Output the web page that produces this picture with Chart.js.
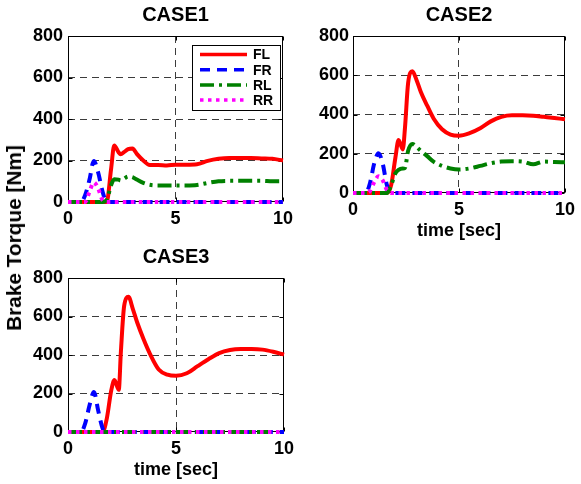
<!DOCTYPE html>
<html>
<head>
<meta charset="utf-8">
<script src="https://cdn.jsdelivr.net/npm/chart.js@4.4.0/dist/chart.umd.min.js"></script>
<style>
  body { margin: 0; background: #fff; }
  #wrap { position: relative; width: 581px; height: 484px; overflow: hidden; font-family: "Liberation Sans", Arial, sans-serif; }
  canvas { position: absolute; }
  #ylabel { position: absolute; left: 14px; top: 238px; transform: translate(-50%, -50%) rotate(-90deg);
            font-weight: bold; font-size: 20.8px; white-space: nowrap; color: #000; }
</style>
</head>
<body>
<div id="wrap">
  <canvas id="case1" width="305" height="230" style="left:0;top:0"></canvas>
  <canvas id="case2" width="291" height="245" style="left:290px;top:0"></canvas>
  <canvas id="case3" width="305" height="242" style="left:0;top:242px"></canvas>
  <div id="ylabel">Brake Torque [Nm]</div>
</div>
<script>
// time samples [sec], shared by every series
const time = [0, 0.6, 0.8, 1.0, 1.2, 1.4, 1.6, 1.8, 2.0, 2.15, 2.35, 2.45, 2.6, 2.8, 3.0, 3.2,
              3.5, 3.8, 4.2, 4.6, 5.0, 5.5, 6.0, 6.5, 7.0, 7.5, 8.0, 8.5, 9.0, 9.5, 10];

const wheels = ['FL', 'FR', 'RL', 'RR'];
const xTicks = [0, 5, 10];
const yTicks = [0, 200, 400, 600, 800];

// CASE1 brake torque [Nm]
const case1FL = [0, 0, 0, 0, 0, 0, 0, 0, 155, 272, 240, 230, 240, 255, 258, 232,
                 200, 178, 178, 176, 180, 180, 182, 198, 208, 212, 212, 212, 210, 208, 200];
const case1FR = [0, 0, 34, 108, 198, 143, 53, 0, 0, 0, 0, 0, 0, 0, 0, 0,
                 0, 0, 0, 0, 0, 0, 0, 0, 0, 0, 0, 0, 0, 0, 0];
const case1RL = [0, 0, 0, 0, 0, 0, 0, 10, 80, 110, 108, 104, 112, 123, 120, 108,
                 92, 83, 80, 80, 80, 80, 82, 92, 100, 102, 102, 102, 102, 100, 100];
const case1RR = [0, 0, 0, 50, 95, 65, 10, 0, 0, 0, 0, 0, 0, 0, 0, 0,
                 0, 0, 0, 0, 0, 0, 0, 0, 0, 0, 0, 0, 0, 0, 0];

// CASE2
const case2FL = [0, 0, 0, 0, 0, 0, 0, 40, 180, 270, 222, 330, 560, 620, 575, 515,
                 445, 380, 325, 298, 292, 305, 330, 365, 388, 396, 396, 394, 388, 382, 376];
const case2FR = [0, 0, 50, 150, 203, 150, 40, 0, 0, 0, 0, 0, 0, 0, 0, 0,
                 0, 0, 0, 0, 0, 0, 0, 0, 0, 0, 0, 0, 0, 0, 0];
const case2RL = [0, 0, 0, 0, 0, 0, 0, 40, 100, 118, 125, 128, 215, 250, 235, 215,
                 188, 160, 138, 125, 120, 125, 138, 152, 160, 162, 160, 146, 160, 158, 157];
const case2RR = [0, 0, 10, 55, 85, 65, 15, 0, 0, 0, 0, 0, 0, 0, 0, 0,
                 0, 0, 0, 0, 0, 0, 0, 0, 0, 0, 0, 0, 0, 0, 0];

// CASE3
const case3FL = [0, 0, 0, 0, 0, 0, 0, 72, 215, 270, 219, 420, 655, 702, 640, 570,
                 482, 405, 325, 298, 292, 305, 342, 378, 410, 426, 431, 431, 428, 417, 402];
const case3FR = [0, 0, 46, 140, 208, 110, 20, 0, 0, 0, 0, 0, 0, 0, 0, 0,
                 0, 0, 0, 0, 0, 0, 0, 0, 0, 0, 0, 0, 0, 0, 0];
const case3RL = [0, 0, 0, 0, 0, 0, 0, 0, 0, 0, 0, 0, 0, 0, 0, 0,
                 0, 0, 0, 0, 0, 0, 0, 0, 0, 0, 0, 0, 0, 0, 0];
const case3RR = [0, 0, 0, 0, 0, 0, 0, 0, 0, 0, 0, 0, 0, 0, 0, 0,
                 0, 0, 0, 0, 0, 0, 0, 0, 0, 0, 0, 0, 0, 0, 0];

const FONT = '"Liberation Sans", Arial, sans-serif';
Chart.defaults.font.family = FONT;
Chart.defaults.font.weight = 'bold';
Chart.defaults.color = '#000';

const styles = [
    { color: '#ff0000', dash: [] },
    { color: '#0000ff', dash: [10, 7] },
    { color: '#008000', dash: [14, 5, 3, 5] },
    { color: '#ff00ff', dash: [3.5, 4.5] }
];

function buildSets(series) {
    return series.map((vals, i) => ({
        label: wheels[i],
        data: time.map((t, k) => ({ x: t, y: vals[k] })),
        borderColor: styles[i].color,
        borderDash: styles[i].dash,
        borderWidth: 4,
        pointRadius: 0,
        cubicInterpolationMode: 'monotone',
        clip: 6,
        order: 4 - i
    }));
}

const gridColor = function (ctx) {
    const v = ctx.tick.value;
    if (v === ctx.scale.min || v === ctx.scale.max) return 'rgba(0,0,0,0)';
    return '#3c3c3c';
};

// black box round the plot plus small inward ticks, like the original figure
const frame = {
    id: 'frame',
    beforeDatasetsDraw(chart) {
        const { ctx, chartArea: a, scales } = chart;
        ctx.save();
        ctx.strokeStyle = '#000';
        ctx.lineWidth = 1;
        const l = Math.round(a.left) + 0.5, t = Math.round(a.top) + 0.5;
        const r = Math.round(a.right) - 0.5, b = Math.round(a.bottom) - 0.5;
        ctx.strokeRect(l, t, r - l, b - t);
        ctx.beginPath();
        xTicks.forEach(v => {
            const px = Math.round(scales.x.getPixelForValue(v)) + 0.5;
            ctx.moveTo(px, b); ctx.lineTo(px, b - 4);
            ctx.moveTo(px, t); ctx.lineTo(px, t + 4);
        });
        yTicks.forEach(v => {
            const py = Math.round(scales.y.getPixelForValue(v)) + 0.5;
            ctx.moveTo(l, py); ctx.lineTo(l + 4, py);
            ctx.moveTo(r, py); ctx.lineTo(r - 4, py);
        });
        ctx.stroke();
        ctx.restore();
    }
};

const legendBox = {
    id: 'legendBox',
    afterDraw(chart) {
        const { ctx, chartArea } = chart;
        const w = 88, h = 65;
        const x = Math.round(chartArea.right) - 3 - w, y = Math.round(chartArea.top) + 9;
        ctx.save();
        ctx.fillStyle = '#fff';
        ctx.fillRect(x, y, w, h);
        ctx.strokeStyle = '#000';
        ctx.lineWidth = 1;
        ctx.strokeRect(x + 0.5, y + 0.5, w, h);
        ctx.font = 'bold 14px ' + FONT;
        ctx.textBaseline = 'middle';
        chart.data.datasets.forEach((ds, i) => {
            const ly = y + 9.5 + i * 15.2;
            ctx.strokeStyle = ds.borderColor;
            ctx.lineWidth = 3.5;
            ctx.setLineDash(ds.borderDash);
            ctx.beginPath();
            ctx.moveTo(x + 8, ly);
            ctx.lineTo(x + 55, ly);
            ctx.stroke();
            ctx.setLineDash([]);
            ctx.fillStyle = '#000';
            ctx.fillText(ds.label, x + 61, ly + 1);
        });
        ctx.restore();
    }
};

function makeChart(id, title, series, opts) {
    const plugins = [frame];
    if (opts.legend) plugins.push(legendBox);
    return new Chart(document.getElementById(id), {
        type: 'line',
        data: { datasets: buildSets(series) },
        plugins: plugins,
        options: {
            responsive: false,
            animation: false,
            layout: { padding: { left: 0, right: opts.right, top: 0, bottom: 0 } },
            plugins: {
                legend: { display: false },
                tooltip: { enabled: false },
                title: {
                    display: true, text: title, color: '#000', fullSize: false,
                    font: { size: 20, weight: 'bold', lineHeight: 1.2 },
                    padding: { top: 3, bottom: 9 }
                }
            },
            scales: {
                x: {
                    type: 'linear', min: 0, max: 10,
                    afterBuildTicks: s => { s.ticks = xTicks.map(v => ({ value: v })); },
                    ticks: { padding: 6, maxRotation: 0, autoSkip: false, color: '#000',
                             font: { size: 18, weight: 'bold' } },
                    grid: { drawTicks: false, color: gridColor, lineWidth: 1 },
                    border: { display: false, dash: [7, 5] },
                    title: { display: opts.xTitle, text: 'time [sec]', color: '#000',
                             font: { size: 18, weight: 'bold' }, padding: { top: 0, bottom: 3 } },
                    afterFit: s => { s.height = opts.xTitle ? 52 : 28; }
                },
                y: {
                    min: 0, max: 800,
                    afterBuildTicks: s => { s.ticks = yTicks.map(v => ({ value: v })); },
                    ticks: { padding: opts.yPad, color: '#000', font: { size: 18, weight: 'bold' } },
                    grid: { drawTicks: false, color: gridColor, lineWidth: 1 },
                    border: { display: false, dash: [7, 5] },
                    afterFit: s => { s.width = opts.yWidth; }
                }
            }
        }
    });
}

makeChart('case1', 'CASE1', [case1FL, case1FR, case1RL, case1RR],
          { legend: true, xTitle: false, right: 22, yWidth: 68, yPad: 5 });
makeChart('case2', 'CASE2', [case2FL, case2FR, case2RL, case2RR],
          { legend: false, xTitle: true, right: 10, yWidth: 63, yPad: 4 });
makeChart('case3', 'CASE3', [case3FL, case3FR, case3RL, case3RR],
          { legend: false, xTitle: true, right: 21, yWidth: 68, yPad: 5 });
</script>
</body>
</html>
